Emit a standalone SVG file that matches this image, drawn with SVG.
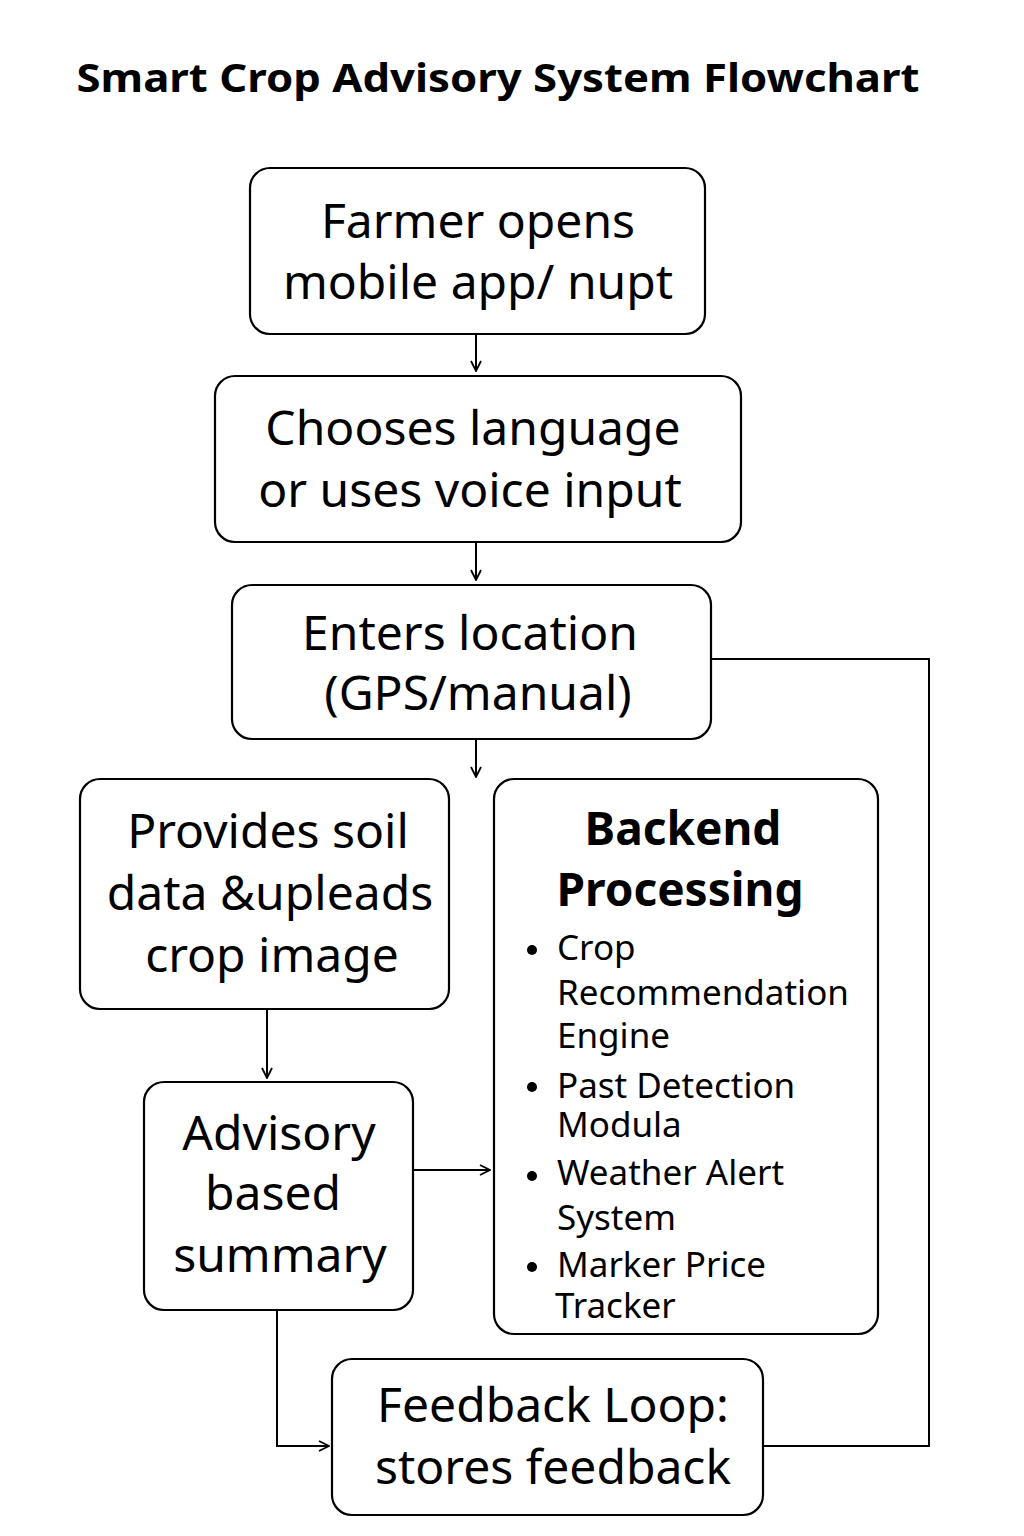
<svg xmlns="http://www.w3.org/2000/svg" width="1024" height="1536" viewBox="0 0 1024 1536">
<defs>
<style>
.box{fill:#fff;stroke:#000;stroke-width:2.2}
.t{font-family:"Noto Sans","Open Sans","DejaVu Sans",sans-serif;fill:#000;text-anchor:middle}
.big{font-size:48px}
.b{font-size:35px;text-anchor:start}
.c{fill:none;stroke:#000;stroke-width:2}
</style>
<marker id="ah" viewBox="0 0 12 12" refX="11" refY="6" markerWidth="12" markerHeight="12" markerUnits="userSpaceOnUse" orient="auto">
<path d="M1,1 L11,6 L1,11" fill="none" stroke="#000" stroke-width="1.8"/>
</marker>
</defs>
<rect width="1024" height="1536" fill="#fff"/>
<text class="t" x="498" y="92" font-size="40" font-weight="bold" textLength="843" lengthAdjust="spacingAndGlyphs">Smart Crop Advisory System Flowchart</text>

<g id="connectors">
<line class="c" x1="476" y1="334" x2="476" y2="371" marker-end="url(#ah)"/>
<line class="c" x1="476" y1="542" x2="476" y2="580" marker-end="url(#ah)"/>
<line class="c" x1="476" y1="739" x2="476" y2="777" marker-end="url(#ah)"/>
<line class="c" x1="267" y1="1009" x2="267" y2="1078" marker-end="url(#ah)"/>
<line class="c" x1="413" y1="1170" x2="490" y2="1170" marker-end="url(#ah)"/>
<polyline class="c" points="277,1310 277,1446 329,1446" marker-end="url(#ah)"/>
<polyline class="c" points="711,659 929,659 929,1446 763,1446"/>
</g>

<g id="n1">
<rect class="box" x="250" y="168" width="455" height="166" rx="20"/>
<text class="t big" x="478" y="238">Farmer opens</text>
<text class="t big" x="478" y="299">mobile app/ nupt</text>
</g>
<g id="n2">
<rect class="box" x="215" y="376" width="526" height="166" rx="20"/>
<text class="t big" x="473" y="445">Chooses language</text>
<text class="t big" x="470" y="507">or uses voice input</text>
</g>
<g id="n3">
<rect class="box" x="232" y="585" width="479" height="154" rx="20"/>
<text class="t big" x="470" y="650">Enters location</text>
<text class="t big" x="478" y="710">(GPS/manual)</text>
</g>
<g id="n4">
<rect class="box" x="80" y="779" width="369" height="230" rx="20"/>
<text class="t big" x="268" y="848">Provides soil</text>
<text class="t big" x="270" y="910">data &amp;upleads</text>
<text class="t big" x="272" y="972">crop image</text>
</g>
<g id="n5">
<rect class="box" x="494" y="779" width="384" height="555" rx="20"/>
<text class="t" x="683" y="845" font-size="46" font-weight="bold">Backend</text>
<text class="t" x="680" y="906" font-size="46" font-weight="bold">Processing</text>
<circle cx="532" cy="950" r="5"/>
<circle cx="532" cy="1087" r="5"/>
<circle cx="532" cy="1176" r="5"/>
<circle cx="532" cy="1267" r="5"/>
<text class="t b" x="557" y="960">Crop</text>
<text class="t b" x="557" y="1005">Recommendation</text>
<text class="t b" x="557" y="1048">Engine</text>
<text class="t b" x="557" y="1098">Past Detection</text>
<text class="t b" x="557" y="1137">Modula</text>
<text class="t b" x="557" y="1185">Weather Alert</text>
<text class="t b" x="557" y="1230">System</text>
<text class="t b" x="557" y="1277">Marker Price</text>
<text class="t b" x="555" y="1318">Tracker</text>
</g>
<g id="n6">
<rect class="box" x="144" y="1082" width="269" height="228" rx="20"/>
<text class="t big" x="279" y="1150">Advisory</text>
<text class="t big" x="273" y="1210">based</text>
<text class="t big" x="280" y="1272">summary</text>
</g>
<g id="n7">
<rect class="box" x="332" y="1359" width="431" height="156" rx="20"/>
<text class="t big" x="553" y="1422">Feedback Loop:</text>
<text class="t big" x="553" y="1484">stores feedback</text>
</g>
</svg>
